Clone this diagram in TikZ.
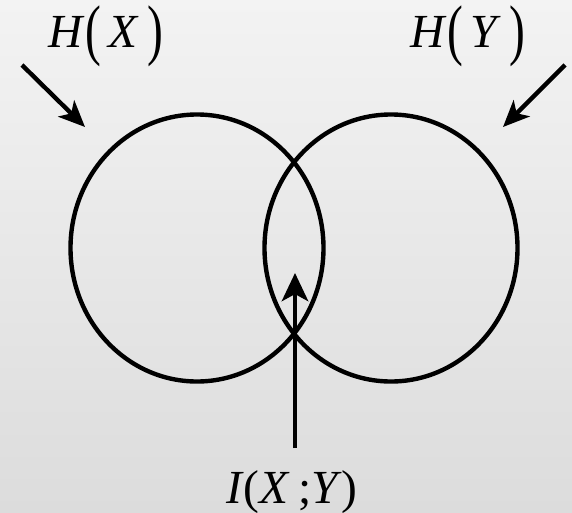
\documentclass[tikz,border=0pt]{standalone}
\usepackage{fontspec}
\setmainfont{Liberation Serif}
\usepackage{graphicx}
\usetikzlibrary{arrows.meta,positioning,shapes.geometric}

\definecolor{bgtop}{RGB}{243,243,243}
\definecolor{bgbot}{RGB}{220,220,220}

\newcommand{\tallparen}[1]{\raisebox{-0.1em}{\scalebox{1}[1.42]{#1}}}

\tikzset{
  setline/.style={draw=black, line width=2.5pt},
  pointer/.style={black, line width=2.5pt, -{Stealth[length=15pt,width=13pt,inset=4pt]}},
  infolabel/.style={font=\fontsize{27}{32}\selectfont, anchor=base, inner sep=0pt}
}

\begin{document}
\begin{tikzpicture}
  % Background
  \shade[top color=bgtop, bottom color=bgbot] (0,0) rectangle (11.44,10.24);
  \useasboundingbox (0,0) rectangle (11.44,10.24);

  % The two entropy sets
  \node[setline, ellipse, minimum width=5.06cm, minimum height=5.34cm, inner sep=0pt] (setx) at (3.94,5.28) {};
  \node[setline, ellipse, minimum width=5.06cm, minimum height=5.34cm, inner sep=0pt] (sety) at (7.82,5.28) {};

  % Labels
  \node[infolabel] (hx) at (2.12,9.28) {\textit{H}\tallparen{(}\,\textit{X}\,\tallparen{)}};
  \node[infolabel] (hy) at (9.36,9.28) {\textit{H}\tallparen{(}\,\textit{Y}\,\tallparen{)}};
  \node[infolabel] (ixy) at (5.84,0.18) {\textit{I}(\textit{X}\,;\textit{Y})};

  % Arrow ends
  \coordinate (hxtail) at (0.44,8.94);
  \coordinate (hxtip) at (1.70,7.70);
  \coordinate (hytail) at (11.30,8.94);
  \coordinate (hytip) at (10.06,7.70);
  \coordinate (ixytail) at (5.90,1.28);
  \coordinate (ixytip) at (5.90,4.78);

  % Pointers
  \draw[pointer] (hxtail) -- (hxtip);
  \draw[pointer] (hytail) -- (hytip);
  \draw[pointer, -{Stealth[length=16pt,width=15pt,inset=4pt]}] (ixytail) -- (ixytip);
\end{tikzpicture}
\end{document}
